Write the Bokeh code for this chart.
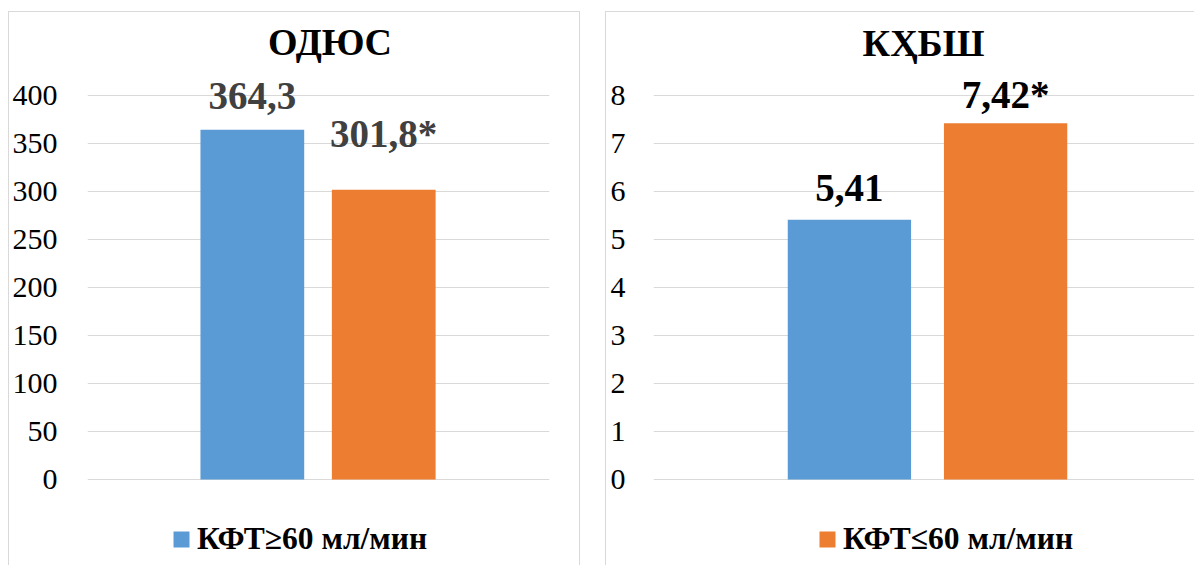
from bokeh.plotting import figure
from bokeh.models import Range1d, FixedTicker, Label, Legend, LegendItem, ColumnDataSource
from bokeh.layouts import row
from bokeh.embed import file_html
from bokeh.resources import INLINE
from bokeh.core.properties import value

# ---------------- data ----------------
series_names = ["КФТ≥60 мл/мин", "КФТ≤60 мл/мин"]
titles = ["ОДЮС", "КҲБШ"]
odyus_values = [364.3, 301.8]
odyus_labels = ["364,3", "301,8*"]
khbsh_values = [5.41, 7.42]
khbsh_labels = ["5,41", "7,42*"]
odyus_ticks = [0, 50, 100, 150, 200, 250, 300, 350, 400]
khbsh_ticks = [0, 1, 2, 3, 4, 5, 6, 7, 8]

# ---------------- style ----------------
COLORS = ["#5B9BD5", "#ED7D31"]
GRID = "#D9D9D9"
FONT = "Liberation Serif"
DODGE = [-0.1425, 0.1425]
BAR_W = 0.225


def panel(vals, labels, ticks, title, title_x, title_y, yr, xr, width, min_left,
          min_right, standoff, label_offsets, label_color, legend_idx, legend_loc, styles, margin):
    p = figure(width=width, height=554, x_range=Range1d(*xr), y_range=Range1d(*yr),
               output_backend="svg", toolbar_location=None, x_axis_location=None,
               min_border_left=min_left, min_border_right=min_right,
               min_border_top=0, min_border_bottom=0, title=None)
    p.outline_line_color = None
    p.background_fill_color = "white"
    p.border_fill_color = "white"
    p.xgrid.visible = False
    p.ygrid.ticker = FixedTicker(ticks=ticks)
    p.ygrid.grid_line_color = GRID
    p.ygrid.grid_line_width = 1
    ax = p.yaxis[0]
    ax.ticker = FixedTicker(ticks=ticks)
    ax.axis_line_color = None
    ax.major_tick_line_color = None
    ax.minor_tick_line_color = None
    ax.major_tick_out = 0
    ax.major_tick_in = 0
    ax.major_label_standoff = standoff
    ax.major_label_text_font = FONT
    ax.major_label_text_font_size = "30px"
    ax.major_label_text_color = "#000000"

    renderers = []
    for i in range(2):
        src = ColumnDataSource(dict(x=[DODGE[i]], top=[vals[i]], lab=[labels[i]],
                                    off=[label_offsets[i]]))
        r = p.vbar(x="x", top="top", bottom=0, width=BAR_W, source=src,
                   fill_color=COLORS[i], line_color=None)
        renderers.append(r)
        p.text(x="x", y="top", text="lab", y_offset="off", source=src,
               text_align="center", text_baseline="alphabetic",
               text_font=value(FONT), text_font_size="39px", text_font_style="bold",
               text_color=label_color)

    p.add_layout(Label(x=title_x, y=title_y, text=title, text_align="center",
                       text_baseline="alphabetic", text_font=FONT,
                       text_font_size="38px", text_font_style="bold", text_color="#000000"))

    leg = Legend(items=[LegendItem(label=series_names[legend_idx], renderers=[renderers[legend_idx]])],
                 location=legend_loc, orientation="horizontal", glyph_width=20, glyph_height=20,
                 label_standoff=6, padding=0, margin=0, spacing=0,
                 border_line_color=None, background_fill_alpha=0,
                 label_text_font=FONT, label_text_font_size="31.5px",
                 label_text_font_style="bold", label_text_color="#000000")
    p.add_layout(leg)
    p.styles = styles
    p.margin = margin
    return p


p1 = panel(odyus_values, odyus_labels, odyus_ticks, titles[0], 0.026, 455.4,
           (-90.63, 486.46), (-0.5, 0.502), 572, 78, 32, 30, [-34, -56], "#404040", 0,
           (84, 9), {"border-top": "1px solid #D9D9D9", "border-left": "1px solid #D9D9D9",
                     "border-right": "1px solid #D9D9D9"}, (11, 0, 0, 8))
p2 = panel(khbsh_values, khbsh_labels, khbsh_ticks, titles[1], -0.0073, 9.094,
           (-1.8125, 9.729), (-0.5, 0.489), 589, 47, 0, 28, [-32, -29], "#000000", 1,
           (164, 9), {"border-top": "1px solid #D9D9D9", "border-left": "1px solid #D9D9D9"},
           (11, 0, 0, 25))

layout = row(p1, p2, spacing=0)
open("out.html", "w").write(file_html(layout, INLINE))
